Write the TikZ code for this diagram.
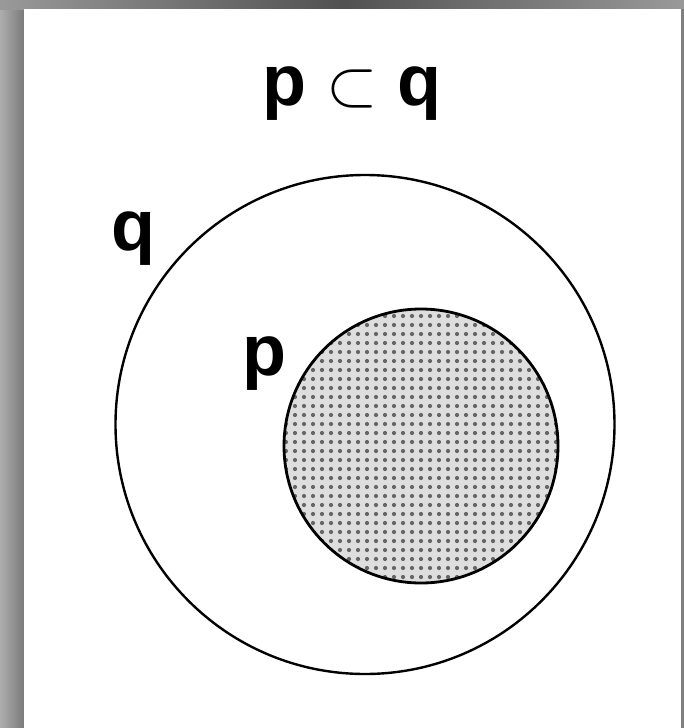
\documentclass[tikz,border=0pt]{standalone}
\usepackage{graphicx}
\usepackage{fontspec}
\setmainfont{Liberation Sans}
\begin{document}
\begin{tikzpicture}[x=1pt,y=-1pt,
  lbl/.style={font=\fontsize{72}{80}\selectfont\bfseries, inner sep=0pt, anchor=base},
  ring/.style={circle, draw=black, inner sep=0pt}]
\useasboundingbox (0,0) rectangle (684,728);
% frame
\fill[black!40] (0,0) rectangle (684,728);
\shade[left color=black!32, right color=black!52] (0,0) rectangle (24,728);
\shade[left color=black!40, right color=black!40, middle color=black!68] (0,0) rectangle (684,9);
\fill[black!50] (681,9) rectangle (684,728);
\fill[white] (24,9) rectangle (681,728);
% outer circle q
\node[ring, line width=2.4pt, minimum size=499pt] (q) at (365,424.5) {};
% inner circle p (dotted)
\begin{scope}
  \clip (421,446) circle[radius=137];
  \fill[black!13] (280,305) rectangle (562,588);
  \foreach \i in {0,...,32}{
    \foreach \j in {0,...,32}{
      \fill[black!60] (277+9*\i, 307+9*\j) circle[radius=2.1];
    }
  }
\end{scope}
\node[ring, line width=2.8pt, minimum size=274pt] (p) at (421,446) {};
% labels
\node[lbl] (title) at (352,105) {p {\fontsize{10}{12}\selectfont\mdseries\scalebox{6.6}{$\subset$}} q};
\node[lbl] (qlabel) at (133,250) {q};
\node[lbl] (plabel) at (264,375) {p};
\end{tikzpicture}
\end{document}
